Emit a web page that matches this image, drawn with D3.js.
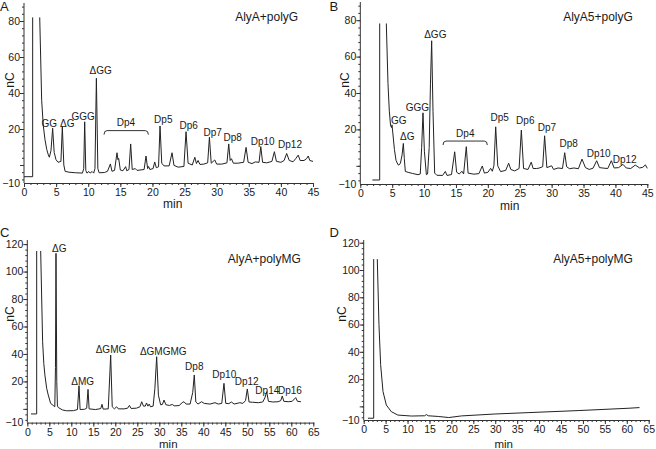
<!DOCTYPE html>
<html><head><meta charset="utf-8">
<script src="https://cdn.jsdelivr.net/npm/d3@7"></script>
<style>
body{margin:0;background:#fff}
svg{display:block}
text{font-family:"Liberation Sans",Arial,sans-serif;fill:#1a1a1a}
</style>
</head><body>
<svg id="chart" width="656" height="449"></svg>
<script>
// ---------- DATA ----------
const xTicksAB = [0,5,10,15,20,25,30,35,40,45];
const xTicksCD = [0,5,10,15,20,25,30,35,40,45,50,55,60,65];
const yTicksAB = [-10,20,40,60,80];
const yTicksCD = [-10,20,40,60,80,100,120];

// retention time (min), signal (nC); null = off-scale gap
const traceA = [[0,-6.5],[1.35,-6.5],[1.35,82],null,[2.45,82],[2.75,36],[3.0,22],[3.27,14],[3.55,8.5],[3.79,5.6],[3.95,4.3],[4.2,8],[4.46,20.4],[4.7,7],[4.98,3],[5.3,1.5],[5.75,2],[5.97,21.3],[6.2,0],[6.4,-3.5],[7,-4],[8,-4.3],[9.1,-4.5],[9.3,-2],[9.45,24],[9.62,-3],[9.8,-4.5],[10.1,-3.6],[10.3,-4.5],[10.6,-3.6],[10.85,-4.5],[11.05,-2],[11.27,48.2],[11.5,-2],[11.7,-4.3],[12.5,-4.2],[13.0,-3.5],[13.45,0.6],[13.7,-3.5],[14.1,-3],[14.48,6.8],[14.62,3.0],[14.74,3.7],[15.0,-2.8],[15.4,-3.2],[15.83,-0.9],[16.0,-3.2],[16.35,-2.5],[16.61,11.7],[16.85,-2.5],[17.33,-2],[17.6,-3],[18.7,-2.5],[19.0,5],[19.25,-2],[19.4,-0.8],[19.6,-2.5],[20.1,-2],[20.35,1.7],[20.6,-1.5],[20.95,-1],[21.18,21.7],[21.45,1],[21.8,-0.5],[22.6,-0.5],[23.05,6.8],[23.35,-0.2],[24,-1.2],[24.9,-0.8],[25.23,18.5],[25.55,1.0],[26.2,0],[26.6,4.3],[26.85,0.8],[27.1,2.5],[27.4,0.3],[28.0,0.5],[28.6,1.2],[28.87,15.4],[29.15,1.0],[29.7,2.8],[30.0,0.5],[30.8,0.5],[31.6,1.2],[31.88,11.7],[32.1,2.5],[32.3,3.5],[32.6,1.0],[33.3,1],[34.2,1.5],[34.58,9.8],[34.9,1.5],[35.5,0.8],[36.0,1.7],[36.6,1.5],[36.87,10.2],[37.15,1.5],[37.8,1.2],[38.6,2],[38.99,7.4],[39.3,2],[40.0,1.5],[40.5,2.5],[40.9,6.4],[41.3,2.5],[41.9,1.8],[42.3,3.5],[42.7,5.5],[43.0,2.5],[43.6,2.5],[44.0,3.5],[44.26,5],[44.5,2.5],[45,2.0]];

const traceB = [[1.9,-7.8],[3.04,-7.8],[3.04,78.2],null,[4.08,78.2],[4.34,45.3],[4.55,30],[4.75,22],[4.9,21],[4.97,22.5],[5.1,18],[5.35,9],[5.6,3],[5.91,0.6],[6.05,0.4],[6.3,1.5],[6.55,6],[6.75,12.3],[6.9,4],[7.06,-3.1],[7.5,-3.6],[8.2,-4.2],[9.05,-4.9],[9.4,-4.5],[9.62,10],[9.83,29.1],[10.05,8],[10.36,-4.9],[10.55,-4.5],[10.8,10],[11.0,45],[11.19,68.7],[11.4,30],[11.66,-4],[12.0,-5.2],[12.9,-5.3],[13.33,-3.1],[13.6,-5.3],[14.3,-4.8],[14.8,7.7],[15.1,-3.5],[15.5,-4.5],[15.95,-3.0],[16.2,-4.5],[16.62,10.5],[16.9,-4.0],[17.8,-4.6],[18.6,-4.3],[19.13,-0.1],[19.45,-4.0],[20.0,-3.6],[20.44,-1.4],[20.7,-3.0],[20.95,0],[21.23,21.4],[21.55,0],[22.0,-3.2],[22.8,-2.5],[23.26,1.4],[23.6,-2],[24.2,-2.8],[24.9,-1.5],[25.25,19.6],[25.6,-1.5],[26.3,-2],[26.8,2.0],[27.1,-1.5],[27.6,-1.5],[28.0,-1.3],[28.6,-0.5],[28.9,16.5],[29.25,-1],[30.0,0],[30.3,-2],[31.0,-1.2],[31.7,-1.5],[32.05,7.2],[32.35,-0.5],[32.8,-1.6],[33.5,-1.2],[34.2,-1.6],[34.76,3.7],[35.3,-1],[35.9,-2],[36.5,-1.3],[37.06,2.8],[37.5,-1],[38.2,-1.3],[38.8,-1.5],[39.36,2.8],[39.8,-1.2],[40.5,-1.0],[41.19,0.8],[41.7,-1.2],[42.4,-1.5],[43.12,0.4],[43.8,-1.2],[44.3,-0.8],[44.7,0.5],[45.0,-1.4]];

const traceC = [[0.84,-3.7],[2.13,-3.7],[2.13,115],null,[3.04,115],[3.48,48.9],[3.75,33],[4.0,24.6],[4.4,15],[4.76,10.1],[5.3,4],[5.9,2.5],[6.25,1.5],[6.4,30],[6.52,113.3],[6.7,20],[6.85,2],[7.05,1],[8.0,-0.8],[8.95,-1.4],[10.5,-1.3],[11.4,-0.5],[11.75,16.9],[12.0,-0.5],[13.0,-0.3],[13.5,0.5],[13.8,14.2],[14.05,0],[15.5,-0.5],[16.7,0.2],[16.98,3.3],[17.25,-0.2],[18.4,0],[18.95,39.2],[19.3,1.5],[19.8,0],[20.3,1.5],[20.7,0],[22.0,0],[22.8,0.5],[23.2,2.5],[23.6,0.3],[24.8,0.5],[25.6,1.5],[26.0,5.2],[26.4,2.0],[26.8,2.0],[27.1,4.3],[27.4,2.0],[27.7,3.5],[28.0,1.5],[28.6,2.0],[29.0,15],[29.4,38],[29.8,10],[30.3,3],[30.7,3.2],[31.07,6.4],[31.5,3],[32.3,2.5],[32.96,3.2],[33.4,2.2],[34.5,2.4],[35.2,4.5],[35.6,5.2],[36.1,3.5],[37.0,3.5],[37.6,12],[37.95,24.7],[38.3,5],[38.8,3.5],[39.6,5.2],[40.2,4],[41.5,3.5],[42.66,4.5],[43.4,3.5],[44.2,4],[44.7,18.6],[45.1,4],[45.8,3.8],[46.4,5],[47.0,3.5],[48.3,4.5],[49.0,4],[49.6,6],[50.0,14.5],[50.4,5],[51.2,4.8],[52.5,4.5],[53.5,5],[54.0,8],[54.4,12.5],[54.8,5.5],[55.8,5.0],[57.0,5.2],[57.6,6],[57.95,9.4],[58.3,5.5],[59.3,5.2],[60.2,5.5],[61.0,8.2],[61.4,5.5],[62.2,5.2]];

const traceD = [[0.98,-8.7],[2.28,-8.7],[2.28,108],null,[3.1,108],[3.48,60],[3.86,30.6],[4.4,10.9],[5.16,1],[6.3,-3.9],[7.8,-6.4],[10.9,-7.1],[13.9,-6.9],[14.3,-6.0],[14.7,-6.9],[17,-7.4],[19.4,-8.2],[22.3,-7.0],[29.9,-5.6],[37.5,-4.6],[48.9,-3.1],[60.3,-1.4],[62.9,-0.9]];

// peak annotations: [text, time, signal]
const labelsA = [["GG",3.95,22.8],["ΔG",6.75,23.3],["GGG",9.2,27.2],["ΔGG",11.94,52.4],["Dp4",15.88,23.5],["Dp5",21.69,25.4],["Dp6",25.65,21.7],["Dp7",29.38,18.2],["Dp8",32.5,15.2],["Dp10",37.17,13.3],["Dp12",41.42,11.5]];
const labelsB = [["GG",6.02,24.7],["ΔG",7.37,16.0],["GGG",8.94,32.1],["ΔGG",11.76,72.3],["Dp4",16.46,17.8],["Dp5",21.86,26.6],["Dp6",25.87,24.7],["Dp7",29.27,20.9],["Dp8",32.67,12.3],["Dp10",37.38,6.5],["Dp12",41.45,3.6]];
const labelsC = [["ΔG",7.27,117],["ΔMG",12.59,19.8],["ΔGMG",19.02,43.4],["ΔGMGMG",30.9,42.1],["Dp8",37.95,31.2],["Dp10",44.77,24.7],["Dp12",49.86,20.3],["Dp14",54.55,13.2],["Dp16",59.7,13.2]];
const labelsD = [];
// Dp4 brackets: [start, end, level]
const bracketA = [[12.46,19.36,19.1]];
const bracketB = [[12.97,19.91,13.6]];
const bracketC = [];
const bracketD = [];

const titles = ["AlyA+polyG","AlyA5+polyG","AlyA+polyMG","AlyA5+polyMG"];
const letters = ["A","B","C","D"];

// ---------- LAYOUT ----------
const panels = [
  {trace:traceA, labels:labelsA, bracket:bracketA, xTicks:xTicksAB, yTicks:yTicksAB, xDom:[0,45], yDom:[-10,90], xR:[24,313], yR:[183,3],
   letter:[0,11], title:[266.7,20.8], nC:[9.7,80], min:[172.7,207.5]},
  {trace:traceB, labels:labelsB, bracket:bracketB, xTicks:xTicksAB, yTicks:yTicksAB, xDom:[0,45], yDom:[-10,90], xR:[360.3,647.3], yR:[184,2],
   letter:[329.5,11], title:[598,20.8], nC:[344.7,80], min:[509.7,210]},
  {trace:traceC, labels:labelsC, bracket:bracketC, xTicks:xTicksCD, yTicks:yTicksCD, xDom:[0,65], yDom:[-10,123], xR:[27.3,313.3], yR:[422.6,240],
   letter:[0,237], title:[264.3,262.5], nC:[9.7,314], min:[168.3,448]},
  {trace:traceD, labels:labelsD, bracket:bracketD, xTicks:xTicksCD, yTicks:yTicksCD, xDom:[0,65], yDom:[-10,122], xR:[363.7,648.7], yR:[420,240],
   letter:[329.5,237], title:[593,262.5], nC:[342,314], min:[503.7,448]}
];

const svg = d3.select("#chart");
const ink = "#1a1a1a";

panels.forEach((p, i) => {
  const x = d3.scaleLinear().domain(p.xDom).range(p.xR);
  const y = d3.scaleLinear().domain(p.yDom).range(p.yR);
  const g = svg.append("g");

  const xMinor = d3.range(p.xDom[0], p.xDom[1] + 0.001, 1);
  const yMinor = d3.range(-8, p.yDom[1], 4).filter(v => v <= p.yDom[1]);
  const yMajor = [0].concat(p.yTicks.filter(v => v > 0));

  g.append("g").attr("transform", `translate(0,${p.yR[0]})`)
    .call(d3.axisBottom(x).tickValues(xMinor).tickSize(2).tickSizeOuter(0).tickFormat(""))
    .call(a => a.select(".domain").remove());
  g.append("g").attr("transform", `translate(${p.xR[0]},0)`)
    .call(d3.axisLeft(y).tickValues(yMinor).tickSize(2).tickSizeOuter(0).tickFormat(""))
    .call(a => a.select(".domain").remove());

  const xa = g.append("g").attr("transform", `translate(0,${p.yR[0]})`)
    .call(d3.axisBottom(x).tickValues(p.xTicks).tickSize(4).tickSizeOuter(0).tickPadding(2).tickFormat(d3.format("d")));
  const ya = g.append("g").attr("transform", `translate(${p.xR[0]},0)`)
    .call(d3.axisLeft(y).tickValues(yMajor).tickSize(4).tickSizeOuter(0).tickFormat(""));
  ya.select(".domain").remove();
  const yl = g.append("g").attr("transform", `translate(${p.xR[0]},0)`)
    .call(d3.axisLeft(y).tickValues(p.yTicks).tickSize(0).tickPadding(4).tickSizeOuter(0).tickFormat(d3.format("d")));
  yl.select(".domain").attr("d", `M0,${p.yR[1]}V${p.yR[0]}`);

  [xa, ya, yl].forEach(a => {
    a.selectAll("path,line").attr("stroke", "#333").attr("stroke-width", 1);
    a.selectAll("text").attr("font-size", 10.5).attr("fill", ink)
      .attr("font-family", '"Liberation Sans",Arial,sans-serif');
  });
  g.selectAll("line").attr("stroke", "#333");

  const line = d3.line().defined(d => d !== null).x(d => x(d[0])).y(d => y(d[1]));
  g.append("path").attr("d", line(p.trace)).attr("fill", "none")
    .attr("stroke", "#222").attr("stroke-width", 1).attr("stroke-linejoin", "round");

  g.selectAll("text.pk").data(p.labels).join("text").attr("class", "pk")
    .attr("x", d => x(d[1])).attr("y", d => y(d[2])).attr("dy", "0.35em")
    .attr("text-anchor", "middle").attr("font-size", 10).text(d => d[0]);

  g.selectAll("path.br").data(p.bracket).join("path").attr("class", "br")
    .attr("d", d => {
      const x1 = x(d[0]), x2 = x(d[1]), yy = y(d[2]);
      return `M${x1},${yy+4}Q${x1},${yy} ${x1+3},${yy}H${x2-3}Q${x2},${yy} ${x2},${yy+4}`;
    })
    .attr("fill", "none").attr("stroke", "#333").attr("stroke-width", 1);

  g.append("text").attr("x", p.letter[0]).attr("y", p.letter[1]).attr("font-size", 13).text(letters[i]);
  g.append("text").attr("x", p.title[0]).attr("y", p.title[1]).attr("text-anchor", "middle").attr("font-size", 12).text(titles[i]);
  g.append("text").attr("transform", `translate(${p.nC[0]},${p.nC[1]}) rotate(-90)`).attr("text-anchor", "middle")
    .attr("dy", "0.35em").attr("font-size", 12).text("nC");
  g.append("text").attr("x", p.min[0]).attr("y", p.min[1]).attr("text-anchor", "middle")
    .attr("font-size", i >= 2 ? 11.5 : 12).text("min");
});
</script>
</body></html>
